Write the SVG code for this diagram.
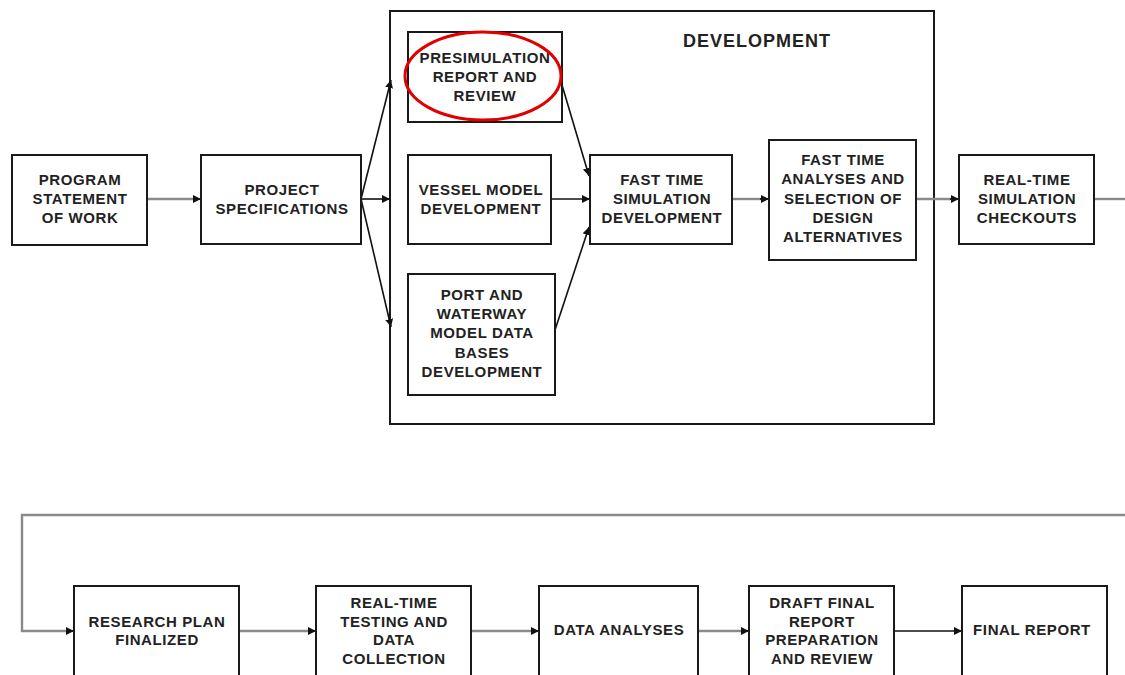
<svg xmlns="http://www.w3.org/2000/svg" width="1125" height="675" viewBox="0 0 1125 675">
  <defs>
    <marker id="arr" viewBox="0 0 10 10" refX="10" refY="5" markerWidth="8" markerHeight="8" markerUnits="userSpaceOnUse" orient="auto">
      <path d="M0,0 L10,5 L0,10 z" fill="#111"/>
    </marker>
  </defs>
  <style>
    .box { fill: #fff; stroke: #1a1a1a; stroke-width: 2; }
    .frame { fill: none; stroke: #1a1a1a; stroke-width: 2; }
    .lbl { font-family: "Liberation Sans", Arial, sans-serif; font-size: 15px; font-weight: bold; letter-spacing: 0.6px; fill: #222; text-anchor: middle; }
    .title { font-family: "Liberation Sans", Arial, sans-serif; font-size: 18px; font-weight: bold; letter-spacing: 1px; fill: #222; text-anchor: middle; }
    .c { fill: none; stroke: #111; stroke-width: 1.6; }
    .g { fill: none; stroke: #8a8a8a; stroke-width: 2.4; }
  </style>
  <rect width="1125" height="675" fill="#fff"/>

  <!-- development frame -->
  <g id="development">
    <rect class="frame" x="390" y="11" width="544" height="413"/>
    <text class="title" x="757" y="47">DEVELOPMENT</text>
  </g>

  <!-- connectors -->
  <g id="connectors">
    <line class="g" x1="147" y1="199" x2="195" y2="199"/>
    <line class="c" x1="195" y1="199" x2="201" y2="199" marker-end="url(#arr)"/>
    <line class="c" x1="361" y1="199" x2="391" y2="80" marker-end="url(#arr)"/>
    <line class="c" x1="361" y1="199" x2="390" y2="199" marker-end="url(#arr)"/>
    <line class="c" x1="361" y1="199" x2="391" y2="327" marker-end="url(#arr)"/>
    <line class="c" x1="562" y1="85" x2="589" y2="176" marker-end="url(#arr)"/>
    <line class="c" x1="551" y1="199" x2="590" y2="199" marker-end="url(#arr)"/>
    <line class="c" x1="555" y1="330" x2="589" y2="227" marker-end="url(#arr)"/>
    <line class="g" x1="732" y1="199" x2="763" y2="199"/>
    <line class="c" x1="760" y1="199" x2="769" y2="199" marker-end="url(#arr)"/>
    <line class="g" x1="916" y1="199" x2="953" y2="199"/>
    <line class="c" x1="950" y1="199" x2="959" y2="199" marker-end="url(#arr)"/>
    <path class="g" d="M1094,199 H1125"/>
    <path class="g" d="M1125,515 H22 V631 H68"/>
    <line class="c" x1="66" y1="631" x2="74" y2="631" marker-end="url(#arr)"/>
    <line class="g" x1="239" y1="631" x2="310" y2="631"/>
    <line class="c" x1="308" y1="631" x2="316" y2="631" marker-end="url(#arr)"/>
    <line class="g" x1="471" y1="631" x2="533" y2="631"/>
    <line class="c" x1="531" y1="631" x2="539" y2="631" marker-end="url(#arr)"/>
    <line class="g" x1="698" y1="631" x2="743" y2="631"/>
    <line class="c" x1="741" y1="631" x2="749" y2="631" marker-end="url(#arr)"/>
    <line class="c" x1="894" y1="631" x2="962" y2="631" marker-end="url(#arr)"/>
  </g>

  <g id="program">
    <rect class="box" x="12" y="155" width="135" height="90"/>
    <text class="lbl" x="80" y="185">PROGRAM</text>
    <text class="lbl" x="80" y="204">STATEMENT</text>
    <text class="lbl" x="80" y="223">OF WORK</text>
  </g>
  <g id="specs">
    <rect class="box" x="201" y="155" width="160" height="89"/>
    <text class="lbl" x="282" y="195">PROJECT</text>
    <text class="lbl" x="282" y="214">SPECIFICATIONS</text>
  </g>
  <g id="presim">
    <rect class="box" x="408" y="32" width="154" height="90"/>
    <text class="lbl" x="485" y="63">PRESIMULATION</text>
    <text class="lbl" x="485" y="82">REPORT AND</text>
    <text class="lbl" x="485" y="101">REVIEW</text>
    <ellipse cx="483" cy="76" rx="78" ry="44" fill="none" stroke="#e00000" stroke-width="3"/>
  </g>
  <g id="vessel">
    <rect class="box" x="408" y="155" width="143" height="89"/>
    <text class="lbl" x="481" y="195">VESSEL MODEL</text>
    <text class="lbl" x="481" y="214">DEVELOPMENT</text>
  </g>
  <g id="port">
    <rect class="box" x="408" y="274" width="147" height="121"/>
    <text class="lbl" x="482" y="300">PORT AND</text>
    <text class="lbl" x="482" y="319">WATERWAY</text>
    <text class="lbl" x="482" y="338">MODEL DATA</text>
    <text class="lbl" x="482" y="358">BASES</text>
    <text class="lbl" x="482" y="377">DEVELOPMENT</text>
  </g>
  <g id="fastsim">
    <rect class="box" x="590" y="155" width="142" height="89"/>
    <text class="lbl" x="662" y="185">FAST TIME</text>
    <text class="lbl" x="662" y="204">SIMULATION</text>
    <text class="lbl" x="662" y="223">DEVELOPMENT</text>
  </g>
  <g id="analyses">
    <rect class="box" x="769" y="140" width="147" height="120"/>
    <text class="lbl" x="843" y="165">FAST TIME</text>
    <text class="lbl" x="843" y="184">ANALYSES AND</text>
    <text class="lbl" x="843" y="204">SELECTION OF</text>
    <text class="lbl" x="843" y="223">DESIGN</text>
    <text class="lbl" x="843" y="242">ALTERNATIVES</text>
  </g>
  <g id="checkouts">
    <rect class="box" x="959" y="155" width="135" height="89"/>
    <text class="lbl" x="1027" y="185">REAL-TIME</text>
    <text class="lbl" x="1027" y="204">SIMULATION</text>
    <text class="lbl" x="1027" y="223">CHECKOUTS</text>
  </g>

  <g id="research">
    <rect class="box" x="74" y="586" width="165" height="120"/>
    <text class="lbl" x="157" y="627">RESEARCH PLAN</text>
    <text class="lbl" x="157" y="645">FINALIZED</text>
  </g>
  <g id="testing">
    <rect class="box" x="316" y="586" width="155" height="120"/>
    <text class="lbl" x="394" y="608">REAL-TIME</text>
    <text class="lbl" x="394" y="627">TESTING AND</text>
    <text class="lbl" x="394" y="645">DATA</text>
    <text class="lbl" x="394" y="664">COLLECTION</text>
  </g>
  <g id="dataanalyses">
    <rect class="box" x="539" y="586" width="159" height="120"/>
    <text class="lbl" x="619" y="635">DATA ANALYSES</text>
  </g>
  <g id="draft">
    <rect class="box" x="749" y="586" width="145" height="120"/>
    <text class="lbl" x="822" y="608">DRAFT FINAL</text>
    <text class="lbl" x="822" y="627">REPORT</text>
    <text class="lbl" x="822" y="645">PREPARATION</text>
    <text class="lbl" x="822" y="664">AND REVIEW</text>
  </g>
  <g id="final">
    <rect class="box" x="962" y="586" width="145" height="120"/>
    <text class="lbl" x="1032" y="635">FINAL REPORT</text>
  </g>
</svg>
